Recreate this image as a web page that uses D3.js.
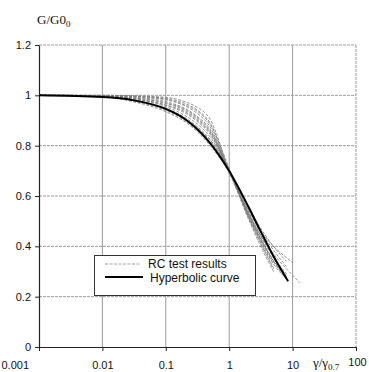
<!DOCTYPE html>
<html><head><meta charset="utf-8">
<script src="https://cdn.jsdelivr.net/npm/d3@7"></script>
<style>body{margin:0;background:#fff}svg{display:block}</style>
</head><body>
<svg id="c" width="369" height="372"></svg>
<script>
// ---- data ----
const xTicks = [0.001, 0.01, 0.1, 1, 10, 100];
const xTickLabels = ["0.001", "0.01", "0.1", "1", "10", "100"];
const yTicks = [0, 0.2, 0.4, 0.6, 0.8, 1, 1.2];
const yTickLabels = ["0", "0.2", "0.4", "0.6", "0.8", "1", "1.2"];

const hypX = [0.001, 0.01, 0.03, 0.1, 0.2, 0.3, 0.5, 1, 2, 3, 5, 8.5];
const hypY = [1.0, 0.993, 0.981, 0.946, 0.906, 0.870, 0.810, 0.699, 0.558, 0.469, 0.361, 0.261];

const testX = [0.001, 0.01, 0.03, 0.1, 0.2, 0.3, 0.5, 1, 2, 3, 5, 8, 10, 13];
const test1  = [1, 1, 0.998, 0.992, 0.975, 0.955, 0.905, 0.70, 0.53, 0.45, 0.37, 0.31, 0.285, 0.255];
const test2  = [1, 1, 0.997, 0.988, 0.968, 0.945, 0.89, 0.70, 0.545, 0.47, 0.40, 0.355, 0.335, null];
const test3  = [1, 0.999, 0.995, 0.982, 0.958, 0.932, 0.875, 0.70, 0.55, 0.47, 0.385, 0.32, null, null];
const test4  = [1, 0.999, 0.993, 0.975, 0.948, 0.92, 0.865, 0.70, 0.54, 0.455, 0.36, 0.29, null, null];
const test5  = [1, 0.998, 0.99, 0.968, 0.94, 0.91, 0.855, 0.70, 0.535, 0.45, 0.355, 0.285, null, null];
const test6  = [1, 0.998, 0.988, 0.96, 0.93, 0.90, 0.845, 0.70, 0.53, 0.44, 0.34, 0.27, null, null];
const test7  = [1, 0.997, 0.985, 0.955, 0.92, 0.89, 0.835, 0.70, 0.525, 0.435, 0.33, null, null, null];
const test8  = [1, 0.996, 0.982, 0.948, 0.912, 0.88, 0.825, 0.70, 0.52, 0.425, 0.315, null, null, null];
const test9  = [1, 0.995, 0.978, 0.94, 0.90, 0.865, 0.81, 0.70, 0.515, 0.42, 0.31, null, null, null];
const test10 = [1, 0.994, 0.975, 0.935, 0.895, 0.86, 0.80, 0.69, 0.51, 0.41, 0.30, null, null, null];
const test11 = [1, 0.996, 0.985, 0.962, 0.935, 0.905, 0.85, 0.70, 0.56, 0.48, 0.40, 0.34, null, null];
const test12 = [1, 0.999, 0.996, 0.985, 0.962, 0.94, 0.885, 0.71, 0.52, 0.43, 0.33, 0.27, null, null];
const test13 = [1, 0.997, 0.99, 0.97, 0.945, 0.915, 0.86, 0.70, 0.525, 0.44, 0.345, 0.28, null, null];
const test14 = [1, 0.995, 0.98, 0.945, 0.905, 0.875, 0.82, 0.70, 0.53, 0.44, 0.34, 0.28, null, null];
const testSeries = [test1, test2, test3, test4, test5, test6, test7, test8, test9, test10, test11, test12, test13, test14];

const legendLabels = ["RC test results", "Hyperbolic curve"];

// ---- layout ----
const L = 39, R = 356, T = 45, B = 347;
const svg = d3.select("#c");
const x = d3.scaleLog().domain([0.001, 100]).range([L, R]);
const y = d3.scaleLinear().domain([0, 1.2]).range([B, T]);

// grid
const g = svg.append("g");
g.selectAll("line.v").data(xTicks.slice(1)).join("line")
  .attr("x1", d => x(d)).attr("x2", d => x(d)).attr("y1", T).attr("y2", B)
  .attr("stroke", "#9a9a9a").attr("stroke-width", 1)
  .attr("stroke-dasharray", d => d === 100 ? "3,1" : null);
g.selectAll("line.h").data(yTicks.slice(1)).join("line")
  .attr("x1", L).attr("x2", R).attr("y1", d => y(d)).attr("y2", d => y(d))
  .attr("stroke", "#9a9a9a").attr("stroke-width", 1).attr("stroke-dasharray", "3,1");

// axes
const font = "'Liberation Sans', Arial, sans-serif";
const yAxis = svg.append("g").attr("transform", `translate(${L},0)`)
  .call(d3.axisLeft(y).tickValues(yTicks).tickSize(4).tickSizeOuter(0).tickFormat((d, i) => yTickLabels[i]));
yAxis.selectAll("text").attr("font-family", font).attr("font-size", 11).attr("fill", "#111").attr("x", -8);
const xAxis = svg.append("g").attr("transform", `translate(0,${B})`)
  .call(d3.axisBottom(x).tickValues(xTicks).tickSize(4).tickSizeOuter(0).tickFormat((d, i) => xTickLabels[i]));
xAxis.selectAll("text").attr("font-family", font).attr("font-size", 11).attr("fill", "#111").attr("y", 14);
xAxis.selectAll(".tick").filter(d => d === 0.001).select("text").attr("text-anchor", "start").attr("x", -38);
xAxis.selectAll(".tick").filter(d => d === 100).select("text").attr("y", 11).attr("x", 1);
svg.selectAll(".domain").attr("stroke", "#222").attr("stroke-width", 1.2);
svg.selectAll(".tick line").attr("stroke", "#222");

// test curves
const line = d3.line().defined(d => d[1] !== null)
  .x(d => x(d[0])).y(d => y(d[1])).curve(d3.curveMonotoneX);
testSeries.forEach(s => {
  svg.append("path").datum(testX.map((xv, i) => [xv, s[i]]))
    .attr("d", line).attr("fill", "none").attr("stroke", "#7a7a7a")
    .attr("stroke-width", 0.8).attr("stroke-dasharray", "3,1.5");
});
// hyperbolic
svg.append("path").datum(hypX.map((xv, i) => [xv, hypY[i]]))
  .attr("d", line).attr("fill", "none").attr("stroke", "#000").attr("stroke-width", 2);

// axis titles
const t1 = svg.append("text").attr("x", 37).attr("y", 24).attr("font-family", "'Liberation Serif', 'Times New Roman', serif").attr("font-size", 13).attr("fill", "#111");
t1.append("tspan").text("G/G0");
t1.append("tspan").attr("font-size", 9).attr("dy", 3).text("0");
const t2 = svg.append("text").attr("x", 313).attr("y", 367).attr("font-family", "'Liberation Serif', 'Times New Roman', serif").attr("font-size", 13).attr("fill", "#111");
t2.append("tspan").text("γ/γ");
t2.append("tspan").attr("font-size", 9).attr("dy", 3).text("0.7");

// legend
const lg = svg.append("g");
lg.append("rect").attr("x", 94.5).attr("y", 255.5).attr("width", 161).attr("height", 40)
  .attr("fill", "#fff").attr("stroke", "#333").attr("stroke-width", 1);
lg.append("line").attr("x1", 105).attr("x2", 141).attr("y1", 264).attr("y2", 264)
  .attr("stroke", "#8a8a8a").attr("stroke-width", 0.8).attr("stroke-dasharray", "3,1.5");
lg.append("line").attr("x1", 105).attr("x2", 143).attr("y1", 277).attr("y2", 277)
  .attr("stroke", "#000").attr("stroke-width", 2);
lg.selectAll("text").data(legendLabels).join("text")
  .attr("x", (d, i) => i === 0 ? 148 : 150).attr("y", (d, i) => i === 0 ? 268 : 282)
  .attr("font-family", font).attr("font-size", 12).attr("fill", "#111").text(d => d);
</script>
</body></html>
